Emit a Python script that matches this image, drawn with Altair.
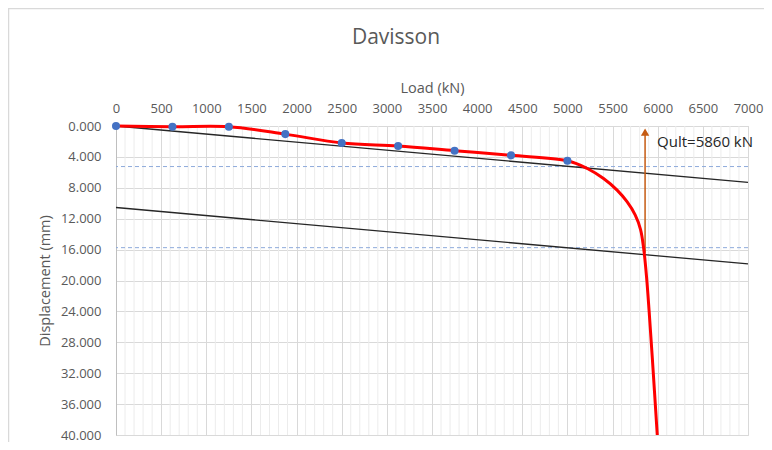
import altair as alt
import pandas as pd

# ---- data ----
load_pts = [0, 625, 1250, 1875, 2500, 3125, 3750, 4375, 5000]
disp_pts = [0.0, 0.1, 0.1, 1.05, 2.2, 2.6, 3.2, 3.8, 4.5]

curve_load = load_pts + [5220, 5400, 5550, 5660, 5750, 5810, 5846, 5876, 5905, 5940, 5995]
curve_disp = disp_pts + [5.5, 6.8, 8.3, 9.8, 11.5, 13.4, 16.0, 19.5, 24.0, 30.0, 40.0]

line_load = [0, 7000]
elastic_disp = [0.0, 7.3]
offset_disp = [10.55, 17.85]

dash_levels = [5.25, 15.75]

qult = 5860
arrow_from = 16.4
arrow_to = 1.0
arrow_tip = 0.8
label_disp = 2.1
label_text = "Qult=5860 kN"

x_ticks = list(range(0, 7001, 500))
x_minor = [v for v in range(100, 7000, 100) if v % 500 != 0]
y_ticks = list(range(0, 41, 4))

FONT = "Open Sans"
GRAY = "#595959"

W, H = 632, 309

xscale = alt.Scale(domain=[0, 7000], nice=False, zero=False)
yscale = alt.Scale(domain=[0, 40], reverse=True, nice=False)

xaxis = alt.Axis(orient="top", values=x_ticks, format="d", title="Load (kN)", grid=True,
                 gridColor="#d9d9d9", domainColor="#d9d9d9", ticks=False,
                 labelPadding=11, titlePadding=7, labelFontSize=13,
                 titleFontSize=14.5, labelColor=GRAY, titleColor=GRAY,
                 titleFontWeight="normal", labelFont=FONT, titleFont=FONT,
                 labelFlush=False)
yaxis = alt.Axis(values=y_ticks, format=".3f", title="Displacement (mm)", grid=True,
                 gridColor="#d9d9d9", domainColor="#bfbfbf", ticks=False,
                 labelPadding=15, titlePadding=8, labelFontSize=13,
                 titleFontSize=14.5, labelColor=GRAY, titleColor=GRAY,
                 titleFontWeight="normal", labelFont=FONT, titleFont=FONT,
                 labelFlush=False)


def X(field="load"):
    return alt.X(f"{field}:Q", scale=xscale, axis=xaxis)


def Y(field="disp"):
    return alt.Y(f"{field}:Q", scale=yscale, axis=yaxis)


pts_df = pd.DataFrame({"load": load_pts, "disp": disp_pts})
curve_df = pd.DataFrame({"load": curve_load, "disp": curve_disp})
lines_df = pd.DataFrame({
    "load": line_load + line_load,
    "disp": elastic_disp + offset_disp,
    "line": ["elastic"] * 2 + ["offset"] * 2,
})
minor_df = pd.DataFrame({"load": x_minor})
dash_df = pd.DataFrame({"disp": dash_levels})
arrow_df = pd.DataFrame({"load": [qult], "disp": [arrow_from], "disp2": [arrow_to]})
tip_df = pd.DataFrame({"load": [qult], "disp": [arrow_tip]})
label_df = pd.DataFrame({"load": [qult], "disp": [label_disp], "txt": [label_text]})
frame_df = pd.DataFrame({"k": [0]})

# light outer chart frame (decoration)
frame = alt.Chart(frame_df).mark_rect(filled=False, stroke="#d9d9d9", strokeWidth=1.5).encode(
    x=alt.value(-107.5), x2=alt.value(720), y=alt.value(-117.5), y2=alt.value(360))

minor = alt.Chart(minor_df).mark_rule(color="#ececec", strokeWidth=1).encode(x=X())

lines = alt.Chart(lines_df).mark_line(color="#262626", strokeWidth=1.3).encode(
    x=X(), y=Y(), detail="line:N")

dashes = alt.Chart(dash_df).mark_rule(color="#8eaadb", strokeWidth=1,
                                      strokeDash=[4, 3]).encode(y=Y())

arrow = alt.Chart(arrow_df).mark_rule(color="#c55a11", strokeWidth=1.5).encode(
    x=X(), y=Y(), y2="disp2:Q")
tip = alt.Chart(tip_df).mark_point(shape="triangle-up", filled=True, color="#c55a11",
                                   size=70, opacity=1).encode(x=X(), y=Y())

curve = alt.Chart(curve_df).mark_line(color="#ff0000", strokeWidth=3,
                                      interpolate="catmull-rom").encode(x=X(), y=Y())

points = alt.Chart(pts_df).mark_circle(color="#4472c4", size=65, opacity=1).encode(
    x=X(), y=Y())

label = alt.Chart(label_df).mark_text(align="left", baseline="middle", dx=12,
                                      fontSize=15, font=FONT, color="#262626").encode(
    x=X(), y=Y(), text="txt:N")

chart = alt.layer(
    frame, minor, dashes, lines, arrow, tip, curve, points, label
).properties(
    width=W, height=H,
    title=alt.TitleParams("Davisson", fontSize=21, color=GRAY, font=FONT,
                          fontWeight="normal", anchor="middle", dx=-36, offset=-40),
    autosize=alt.AutoSizeParams(type="none"),
    padding={"left": 108, "top": 118, "right": 16, "bottom": 7},
).configure_view(stroke=None).configure(background="white")

chart.save("out.html", embed_options={"renderer": "svg", "actions": False})
